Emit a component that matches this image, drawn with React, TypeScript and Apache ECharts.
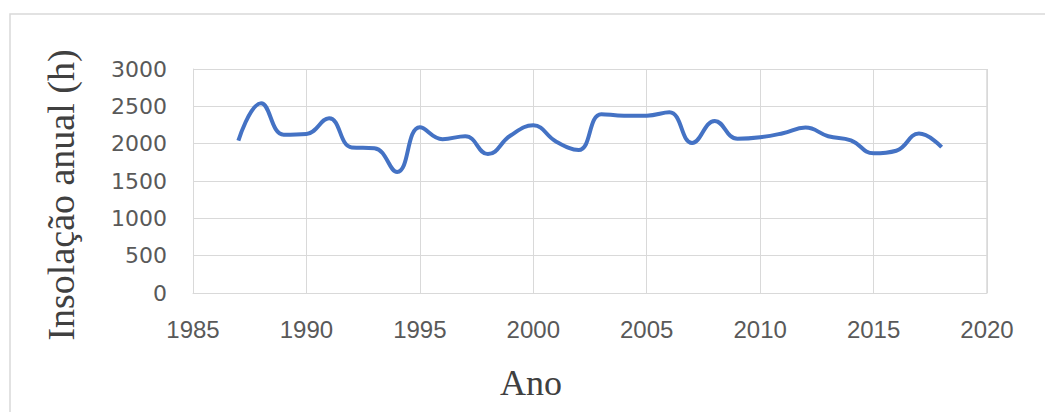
import React, { useEffect, useRef } from "react";
import * as echarts from "echarts";

// Annual sunshine hours per year
const years = [
  1987, 1988, 1989, 1990, 1991, 1992, 1993, 1994, 1995, 1996, 1997, 1998,
  1999, 2000, 2001, 2002, 2003, 2004, 2005, 2006, 2007, 2008, 2009, 2010,
  2011, 2012, 2013, 2014, 2015, 2016, 2017, 2018,
];
const insolation = [
  2040, 2540, 2120, 2130, 2340, 1950, 1940, 1620, 2220, 2060, 2100, 1860,
  2110, 2245, 2030, 1915, 2395, 2375, 2375, 2420, 2010, 2305, 2065, 2085,
  2140, 2215, 2100, 2045, 1870, 1905, 2135, 1955,
];

const yAxisTitle = "Insolação anual (h)";
const xAxisTitle = "Ano";

export default function App() {
  const ref = useRef<HTMLDivElement>(null);

  useEffect(() => {
    if (!ref.current) return;
    const chart = echarts.init(ref.current, undefined, { renderer: "svg" });
    const grid = "#d9d9d9";
    chart.setOption({
      animation: false,
      backgroundColor: "#ffffff",
      grid: { left: 193, top: 69, width: 794, height: 224 },
      xAxis: {
        type: "value",
        min: 1985,
        max: 2020,
        interval: 5,
        axisLine: { show: true, lineStyle: { color: grid, width: 1 } },
        axisTick: { show: false },
        splitLine: { show: true, lineStyle: { color: grid, width: 1 } },
        axisLabel: {
          margin: 24,
          color: "#595959",
          fontFamily: "Liberation Sans",
          fontSize: 24,
          formatter: (v: number) => String(v),
        },
      },
      yAxis: {
        type: "value",
        min: 0,
        max: 3000,
        interval: 500,
        axisLine: { show: true, lineStyle: { color: grid, width: 1 } },
        axisTick: { show: false },
        splitLine: { show: true, lineStyle: { color: grid, width: 1 } },
        axisLabel: {
          margin: 26,
          color: "#595959",
          fontFamily: "DejaVu Sans",
          fontSize: 22,
          formatter: (v: number) => String(v),
        },
      },
      graphic: [
        {
          type: "rect",
          shape: { x: 10, y: 14, width: 1045, height: 420 },
          style: { fill: "none", stroke: "#d9d9d9", lineWidth: 1.5 },
          silent: true,
          z: -1,
        },
        {
          type: "rect",
          shape: { x: 987, y: 69, width: 0.01, height: 224 },
          style: { fill: "none", stroke: grid, lineWidth: 1 },
          silent: true,
        },
        {
          type: "text",
          x: 61,
          y: 195,
          rotation: Math.PI / 2,
          style: {
            text: yAxisTitle,
            align: "center",
            verticalAlign: "middle",
            fill: "#404040",
            font: "38px 'Liberation Serif'",
          },
        },
        {
          type: "text",
          x: 531,
          y: 383,
          style: {
            text: xAxisTitle,
            align: "center",
            verticalAlign: "middle",
            fill: "#404040",
            font: "36px 'Liberation Serif'",
          },
        },
      ],
      series: [
        {
          type: "line",
          data: years.map((y, i) => [y, insolation[i]]),
          smooth: 0.45,
          showSymbol: false,
          lineStyle: { color: "#4472C4", width: 4 },
        },
      ],
    });
    return () => chart.dispose();
  }, []);

  return (
    <div
      ref={ref}
      style={{ position: "fixed", left: 0, top: 0, width: 1045, height: 412 }}
    />
  );
}
